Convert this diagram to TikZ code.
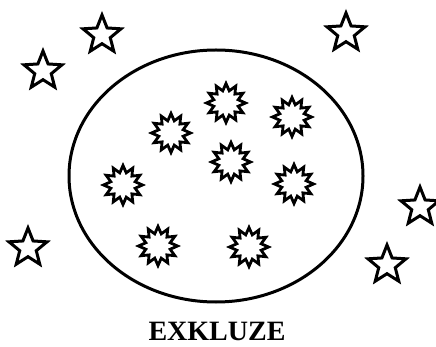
\documentclass[tikz,border=0pt]{standalone}
\usepackage{fontspec}
\setmainfont{Liberation Serif}
\usetikzlibrary{shapes.geometric, positioning}

\begin{document}
\begin{tikzpicture}[
    x=1pt, y=-1pt,
    freestar/.style={star, star points=5, star point ratio=2.3, draw=black, line width=3pt, minimum size=40pt, inner sep=0pt},
    burst/.style={star, star points=12, star point ratio=1.55, draw=black, line width=2.8pt, minimum size=39pt, inner sep=0pt},
    set/.style={ellipse, draw=black, line width=3pt, minimum width=294pt, minimum height=252pt, inner sep=0pt}
]
    \useasboundingbox (0,0) rectangle (436,347);
    \node[set] (set) at (216,176) {};
    % members of the set
    \node[burst] (in1) at (226,103) {};
    \node[burst] (in2) at (292,117) {};
    \node[burst] (in3) at (171,133) {};
    \node[burst] (in4) at (231,162) {};
    \node[burst] (in5) at (294,184) {};
    \node[burst] (in6) at (123,185) {};
    \node[burst] (in7) at (158,246) {};
    \node[burst] (in8) at (249,247) {};
    % outside the set
    \node[freestar] (out1) at (102,35) {};
    \node[freestar] (out2) at (43,71) {};
    \node[freestar] (out3) at (346,33) {};
    \node[freestar] (out4) at (420,207) {};
    \node[freestar] (out5) at (387,265) {};
    \node[freestar] (out6) at (28,248) {};
    \node[font=\fontsize{28}{30}\selectfont\bfseries, inner sep=0pt, anchor=base] (label) at (217,340) {EXKLUZE};
\end{tikzpicture}
\end{document}
